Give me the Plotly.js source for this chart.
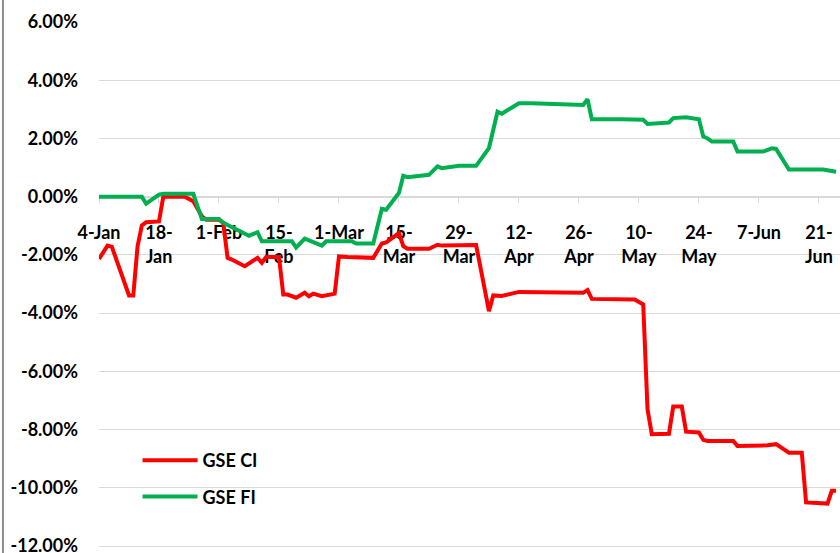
<!DOCTYPE html>
<html>
<head>
<meta charset="utf-8">
<script src="https://cdn.plot.ly/plotly-3.0.1.min.js"></script>
<style>html,body{margin:0;padding:0;background:#fff;}#chart{width:840px;height:553px;}</style>
</head>
<body>
<div id="chart"></div>
<script>
// GSE Composite Index (CI) YTD return, %
const ciDates = ['2021-01-04','2021-01-06','2021-01-07','2021-01-11','2021-01-12','2021-01-13','2021-01-14','2021-01-15','2021-01-18','2021-01-19','2021-01-24','2021-01-26','2021-01-28','2021-01-29','2021-02-01','2021-02-02','2021-02-03','2021-02-04','2021-02-07','2021-02-09','2021-02-10','2021-02-11','2021-02-12','2021-02-15','2021-02-16','2021-02-17','2021-02-19','2021-02-21','2021-02-22','2021-02-23','2021-02-25','2021-02-28','2021-03-01','2021-03-03','2021-03-09','2021-03-11','2021-03-12','2021-03-15','2021-03-16','2021-03-17','2021-03-22','2021-03-24','2021-03-25','2021-04-02','2021-04-05','2021-04-06','2021-04-08','2021-04-12','2021-04-27','2021-04-28','2021-04-29','2021-05-09','2021-05-11','2021-05-12','2021-05-13','2021-05-17','2021-05-18','2021-05-20','2021-05-21','2021-05-24','2021-05-25','2021-05-26','2021-06-01','2021-06-02','2021-06-09','2021-06-11','2021-06-14','2021-06-17','2021-06-18','2021-06-23','2021-06-24','2021-06-25'];
const ciValues = [-2.14,-1.68,-1.72,-3.39,-3.39,-1.70,-0.99,-0.88,-0.85,0.00,0.00,-0.16,-0.67,-0.79,-0.79,-0.90,-2.10,-2.16,-2.39,-2.22,-2.10,-2.27,-2.07,-2.07,-3.36,-3.36,-3.47,-3.30,-3.42,-3.33,-3.42,-3.33,-2.05,-2.07,-2.10,-1.61,-1.57,-1.25,-1.70,-1.79,-1.79,-1.65,-1.68,-1.66,-3.93,-3.39,-3.41,-3.27,-3.30,-3.21,-3.51,-3.53,-3.70,-7.30,-8.16,-8.14,-7.21,-7.21,-8.07,-8.10,-8.35,-8.39,-8.39,-8.56,-8.54,-8.50,-8.79,-8.79,-10.50,-10.54,-10.10,-10.10];

// GSE Financial Stocks Index (FI) YTD return, %
const fiDates = ['2021-01-04','2021-01-14','2021-01-15','2021-01-18','2021-01-19','2021-01-26','2021-01-28','2021-02-01','2021-02-02','2021-02-05','2021-02-08','2021-02-10','2021-02-11','2021-02-18','2021-02-19','2021-02-21','2021-02-23','2021-02-25','2021-02-26','2021-03-04','2021-03-05','2021-03-09','2021-03-11','2021-03-12','2021-03-15','2021-03-16','2021-03-17','2021-03-22','2021-03-24','2021-03-25','2021-03-29','2021-04-02','2021-04-05','2021-04-07','2021-04-08','2021-04-12','2021-04-15','2021-04-24','2021-04-27','2021-04-28','2021-04-29','2021-05-06','2021-05-11','2021-05-12','2021-05-17','2021-05-18','2021-05-21','2021-05-24','2021-05-25','2021-05-26','2021-05-27','2021-06-01','2021-06-02','2021-06-08','2021-06-10','2021-06-11','2021-06-14','2021-06-22','2021-06-24','2021-06-25'];
const fiValues = [0.00,0.00,-0.24,0.07,0.10,0.10,-0.77,-0.77,-0.90,-1.13,-1.34,-1.22,-1.53,-1.53,-1.75,-1.44,-1.57,-1.68,-1.53,-1.53,-1.61,-1.61,-0.42,-0.45,0.13,0.72,0.67,0.75,1.04,0.98,1.06,1.06,1.67,2.92,2.85,3.21,3.21,3.15,3.15,3.35,2.66,2.66,2.64,2.50,2.55,2.70,2.73,2.66,2.07,2.00,1.90,1.90,1.55,1.55,1.66,1.64,0.93,0.93,0.86,0.86];

const xTickVals = ['2021-01-04','2021-01-18','2021-02-01','2021-02-15','2021-03-01','2021-03-15','2021-03-29','2021-04-12','2021-04-26','2021-05-10','2021-05-24','2021-06-07','2021-06-21'];
const xTickText = ['4-Jan<br>&nbsp;','18-<br>Jan','1-Feb<br>&nbsp;','15-<br>Feb','1-Mar<br>&nbsp;','15-<br>Mar','29-<br>Mar','12-<br>Apr','26-<br>Apr','10-<br>May','24-<br>May','7-Jun<br>&nbsp;','21-<br>Jun'];
const yTickVals = [-12,-10,-8,-6,-4,-2,0,2,4,6];
const yTickText = ['-12.00%','-10.00%','-8.00%','-6.00%','-4.00%','-2.00%','0.00%','2.00%','4.00%','6.00%'];

const FONT = 'Lato, Carlito, Calibri, "Open Sans", sans-serif';
const Y_MIN = -12.1, Y_MAX = 6;

const traces = [
  {x: ciDates, y: ciValues, name: 'GSE CI', type: 'scatter', mode: 'lines', legendgroup: 'a',
   line: {color: '#FF0000', width: 4}},
  {x: fiDates, y: fiValues, name: 'GSE FI', type: 'scatter', mode: 'lines', legendgroup: 'b',
   line: {color: '#00B050', width: 4}}
];

const layout = {
  width: 840, height: 553,
  margin: {l: 99, r: 0, t: 22, b: 4},
  paper_bgcolor: '#ffffff', plot_bgcolor: '#ffffff',
  font: {family: FONT, size: 18, color: '#000000'},
  showlegend: true,
  legend: {x: 0.052, y: 0.203, xanchor: 'left', yanchor: 'top', bgcolor: 'rgba(0,0,0,0)',
           font: {family: FONT, size: 18, color: '#000', weight: 'bold'}, traceorder: 'grouped', tracegroupgap: 10, itemwidth: 55},
  xaxis: {
    type: 'date', range: ['2021-01-04', '2021-06-25 22:00'],
    anchor: 'free', position: (0 - Y_MIN) / (Y_MAX - Y_MIN),
    tickmode: 'array', tickvals: xTickVals, ticktext: xTickText,
    ticks: 'outside', ticklen: 5, tickcolor: '#d9d9d9', tickwidth: 1,
    showline: true, linecolor: '#d9d9d9', linewidth: 1,
    showgrid: false, zeroline: false,
    tickfont: {family: FONT, size: 18, color: '#000', weight: 'bold'},
    ticklabelstandoff: 15,
    layer: 'below traces', fixedrange: true
  },
  yaxis: {
    range: [Y_MIN, Y_MAX],
    tickmode: 'array', tickvals: yTickVals, ticktext: yTickText,
    showgrid: true, gridcolor: '#d9d9d9', gridwidth: 1,
    zeroline: false, showline: false, ticks: '',
    tickfont: {family: FONT, size: 18, color: '#000', weight: 'bold'},
    ticklabelstandoff: 20, ticklabeloverflow: 'allow',
    layer: 'below traces', fixedrange: true
  },
  shapes: [
    {type: 'line', xref: 'paper', yref: 'paper', x0: -0.1296, x1: -0.1296, y0: -0.02, y1: 1.05,
     line: {color: '#8c8c8c', width: 2}}
  ]
};

Plotly.newPlot('chart', traces, layout, {staticPlot: true, displayModeBar: false});
</script>
</body>
</html>
